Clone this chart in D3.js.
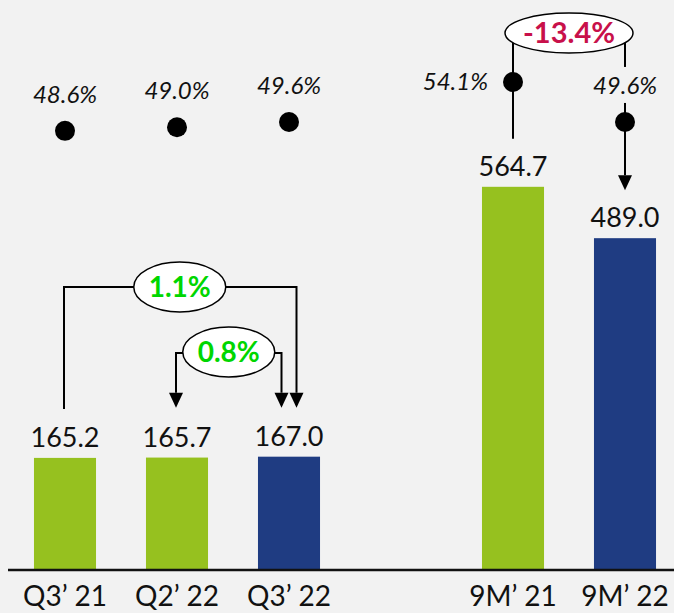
<!DOCTYPE html>
<html>
<head>
<meta charset="utf-8">
<script src="https://cdn.jsdelivr.net/npm/d3@7"></script>
<style>
  body { margin: 0; background: #f2f2f2; }
  svg { display: block; font-family: Lato, "Open Sans", sans-serif; }
</style>
</head>
<body>
<svg id="chart" width="674" height="613"></svg>
<script>
// data
const categories = ["Q3’ 21", "Q2’ 22", "Q3’ 22", "9M’ 21", "9M’ 22"];
const values = [165.2, 165.7, 167.0, 564.7, 489.0];
const margins = [48.6, 49.0, 49.6, 54.1, 49.6];
const barColors = ["#96c11f", "#96c11f", "#1f3c82", "#96c11f", "#1f3c82"];
// change bubbles: from which bar to which bar
const changeLabels = ["1.1%", "0.8%", "-13.4%"];
const changeFrom = [0, 1, 3];
const changeTo = [2, 2, 4];
const changeColors = ["#00d600", "#00d600", "#c8104a"];

let svg = d3.select("#chart");
let width = 674, height = 613;
let baseY = 570;

svg.append("rect").attr("width", width).attr("height", height).attr("fill", "#f2f2f2");

// empty slot between the quarters and the 9M bars
let slots = categories.slice(0, 3).concat(["gap"], categories.slice(3));
let x = d3.scaleBand().domain(slots).range([9, 681]).paddingInner(0.446).paddingOuter(0.223);
let y = d3.scaleLinear().domain([0, 840]).range([baseY, 0]);
let yMargin = d3.scaleLinear().domain([40, 60]).range([207.3, 29.5]);

let cx = (i) => x(categories[i]) + x.bandwidth() / 2;

// bars
svg.selectAll(".bar")
    .data(values)
    .join("rect")
    .attr("x", (d, i) => x(categories[i]))
    .attr("y", (d) => y(d))
    .attr("width", x.bandwidth())
    .attr("height", (d) => y(0) - y(d))
    .attr("fill", (d, i) => barColors[i]);

// value labels
svg.selectAll(".val")
    .data(values)
    .join("text")
    .attr("x", (d, i) => cx(i))
    .attr("y", (d) => y(d) - 11)
    .attr("text-anchor", "middle")
    .attr("font-size", 27)
    .attr("fill", "#111")
    .text((d) => d.toFixed(1));

// axis
let axis = d3.axisBottom(x).tickSize(0).tickFormat((d) => d === "gap" ? "" : d);
let axisG = svg.append("g").attr("transform", `translate(0,${baseY})`).call(axis);
axisG.select(".domain").attr("d", `M8,0H674`).attr("stroke", "#111").attr("stroke-width", 2.5);
axisG.selectAll("text")
    .attr("y", 36).attr("dy", null)
    .attr("font-size", 28).attr("font-family", "Lato, sans-serif").attr("fill", "#111");

// connectors drawn before dots so dots sit on top
let arrow = (g, px, tipY) => {
    g.append("path")
        .attr("d", `M${px - 7},${tipY - 15}L${px + 7},${tipY - 15}L${px},${tipY}Z`)
        .attr("fill", "#000");
};
let line = (g, d) => g.append("path").attr("d", d).attr("fill", "none")
    .attr("stroke", "#000").attr("stroke-width", 2);

let conn = svg.append("g");

// 1.1%
let a0 = cx(changeFrom[0]) - 1, b0 = cx(changeTo[0]) + 7.5, lvl0 = 287;
let tip0a = y(values[changeFrom[0]]) - 49, tip0b = y(values[changeTo[0]]) - 49;
line(conn, `M${a0},${tip0a}V${lvl0}H${b0}V${tip0b - 15}`);
arrow(conn, b0, tip0b);

// 0.8%
let a1 = cx(changeFrom[1]) - 1, b1 = cx(changeTo[1]) - 7.5, lvl1 = 353;
let tip1a = y(values[changeTo[1]]) - 49;
line(conn, `M${a1},${tip1a - 15}V${lvl1}H${b1}V${tip1a - 15}`);
arrow(conn, a1, tip1a);
arrow(conn, b1, tip1a);

// -13.4%
let a2 = cx(changeFrom[2]), b2 = cx(changeTo[2]), lvl2 = 33;
let tip2a = y(values[changeFrom[2]]) - 48, tip2b = y(values[changeTo[2]]) - 48;
line(conn, `M${a2},${tip2a}V${lvl2}H${b2}V${tip2b - 15}`);
arrow(conn, b2, tip2b);

// margin dots and labels
margins.forEach((m, i) => {
    let px = cx(i), py = yMargin(m);
    let label = svg.append("text")
        .attr("font-size", 24)
        .attr("font-style", "italic")
        .attr("fill", "#111")
        .text(m.toFixed(1) + "%");
    if (i === 3) {
        label.attr("x", px - 25).attr("y", py + 8).attr("text-anchor", "end");
    } else {
        label.attr("x", px).attr("y", py - 28).attr("text-anchor", "middle");
    }
    if (i === 4) {
        // the label breaks the connector line
        let bb = label.node().getBBox();
        svg.append("rect")
            .attr("x", px - 5).attr("y", bb.y - 3)
            .attr("width", 10).attr("height", bb.height + 7)
            .attr("fill", "#f2f2f2");
        label.raise();
    }
    svg.append("circle").attr("cx", px).attr("cy", py).attr("r", 10).attr("fill", "#000");
});

// bubbles
let bubbles = [
    { cx: (a0 + b0) / 2 - 0.5, cy: lvl0, rx: 46, ry: 25, size: 28 },
    { cx: (a1 + b1) / 2, cy: lvl1 - 1, rx: 46, ry: 25, size: 28 },
    { cx: (a2 + b2) / 2, cy: lvl2, rx: 64, ry: 20, size: 29 },
];
bubbles.forEach((b, i) => {
    svg.append("ellipse")
        .attr("cx", b.cx).attr("cy", b.cy).attr("rx", b.rx).attr("ry", b.ry)
        .attr("fill", "#fff").attr("stroke", "#000").attr("stroke-width", 1.5);
    svg.append("text")
        .attr("x", b.cx).attr("y", b.cy).attr("dy", "0.36em")
        .attr("text-anchor", "middle")
        .attr("font-size", b.size).attr("font-weight", "bold")
        .attr("fill", changeColors[i])
        .text(changeLabels[i]);
});
</script>
</body>
</html>
